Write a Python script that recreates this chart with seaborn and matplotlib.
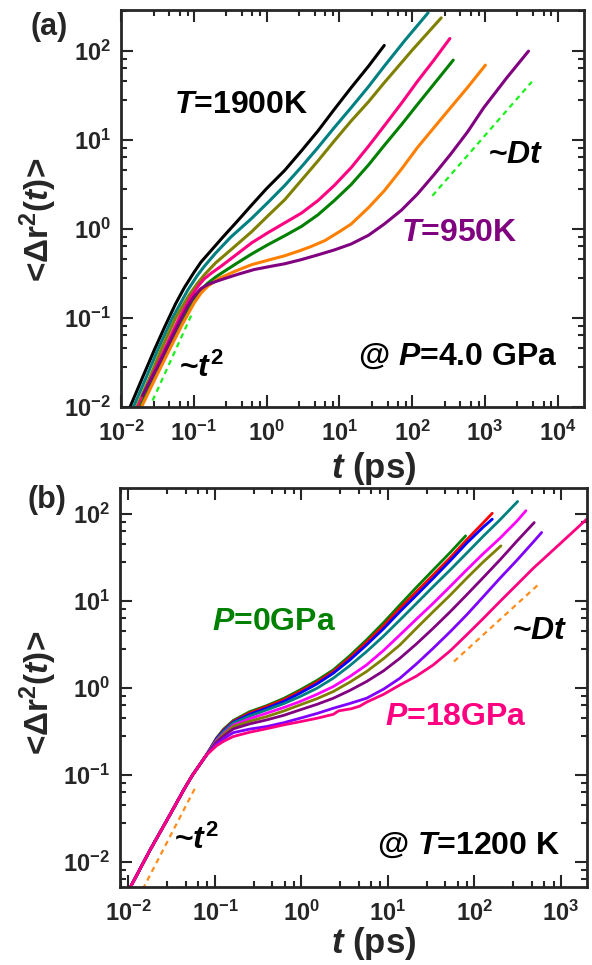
import numpy as np
import pandas as pd
import matplotlib
matplotlib.use("Agg")
import matplotlib.pyplot as plt
import seaborn as sns
from matplotlib.ticker import LogLocator, FuncFormatter, NullFormatter

# Values are given as decimal exponents (log10) of t [ps] and <dr^2(t)>,
# because both axes are logarithmic.

# ---------------- panel (a): P = 4.0 GPa, from T = 1900 K (first) to 950 K (last) ----------------
lg_t_a1 = [-1.886, -1.70, -1.543, -1.40, -1.25, -1.131, -1.00, -0.90, -0.75, -0.60, -0.40,
           -0.205, 0.00, 0.25, 0.48, 0.706, 0.93, 1.162, 1.40, 1.617]
lg_m_a1 = [-2.02, -1.66, -1.36, -1.10, -0.84, -0.66, -0.49, -0.37, -0.23, -0.09, 0.09,
           0.27, 0.455, 0.66, 0.88, 1.103, 1.345, 1.589, 1.83, 2.064]

lg_t_a2 = [-1.84, -1.65, -1.497, -1.30, -1.086, -0.95, -0.857, -0.70, -0.491, -0.205, 0.02,
           0.25, 0.48, 0.706, 0.93, 1.162, 1.40, 1.617, 1.90, 2.219]
lg_m_a2 = [-2.02, -1.66, -1.36, -1.01, -0.69, -0.52, -0.42, -0.27, -0.09, 0.12, 0.30,
           0.49, 0.70, 0.916, 1.14, 1.364, 1.60, 1.83, 2.12, 2.43]

lg_t_a3 = [-1.794, -1.60, -1.451, -1.25, -1.063, -0.95, -0.85, -0.70, -0.50, -0.205, 0.02,
           0.25, 0.48, 0.706, 0.93, 1.162, 1.40, 1.617, 2.00, 2.40]
lg_m_a3 = [-2.02, -1.66, -1.36, -1.00, -0.74, -0.61, -0.51, -0.38, -0.24, -0.03, 0.15,
           0.33, 0.55, 0.766, 0.99, 1.215, 1.43, 1.645, 2.01, 2.374]

lg_t_a4 = [-1.78, -1.60, -1.406, -1.20, -1.04, -0.93, -0.857, -0.75, -0.628, -0.42, -0.205,
           0.02, 0.25, 0.48, 0.706, 0.93, 1.162, 1.40, 1.617, 1.85, 2.073, 2.30, 2.519]
lg_m_a4 = [-2.02, -1.70, -1.36, -1.00, -0.76, -0.63, -0.56, -0.49, -0.42, -0.29, -0.155,
           -0.04, 0.07, 0.18, 0.32, 0.49, 0.69, 0.93, 1.16, 1.41, 1.66, 1.90, 2.142]

lg_t_a5 = [-1.749, -1.55, -1.36, -1.18, -1.017, -0.90, -0.811, -0.70, -0.628, -0.42, -0.205,
           0.02, 0.25, 0.48, 0.706, 0.93, 1.162, 1.40, 1.617, 1.85, 2.073, 2.30, 2.565]
lg_m_a5 = [-2.02, -1.68, -1.36, -1.05, -0.80, -0.68, -0.61, -0.54, -0.50, -0.39, -0.28,
           -0.175, -0.075, 0.03, 0.16, 0.32, 0.50, 0.72, 0.94, 1.17, 1.40, 1.63, 1.899]

lg_t_a6 = [-1.73, -1.53, -1.337, -1.15, -0.994, -0.90, -0.811, -0.70, -0.628, -0.42, -0.205,
           0.02, 0.25, 0.45, 0.60, 0.80, 1.00, 1.162, 1.40, 1.617, 1.85, 2.073, 2.30, 2.528,
           2.77, 3.007]
lg_m_a6 = [-2.02, -1.68, -1.36, -1.06, -0.83, -0.72, -0.645, -0.58, -0.545, -0.47, -0.40,
           -0.35, -0.30, -0.245, -0.20, -0.13, -0.03, 0.056, 0.24, 0.43, 0.67, 0.916, 1.14,
           1.364, 1.60, 1.843]

lg_t_a7 = [-1.703, -1.50, -1.314, -1.20, -1.086, -1.00, -0.903, -0.80, -0.628, -0.40, -0.171,
           0.05, 0.25, 0.47, 0.706, 0.93, 1.162, 1.40, 1.617, 1.85, 2.073, 2.30, 2.528, 2.76,
           2.984, 3.30, 3.599]
lg_m_a7 = [-1.872, -1.55, -1.24, -1.05, -0.87, -0.76, -0.67, -0.62, -0.57, -0.51, -0.455,
           -0.42, -0.39, -0.345, -0.29, -0.235, -0.168, -0.07, 0.056, 0.21, 0.393, 0.61,
           0.84, 1.09, 1.364, 1.70, 2.0]

colors_a = ["#000000", "#008080", "#808000", "#FF0080", "#008000", "#FF8000", "#800080"]

# guide lines ~t^2 and ~Dt in (a)
lg_t_ballistic_a = [-1.566, -1.017]
lg_m_ballistic_a = [-1.928, -0.938]
lg_t_diffusive_a = [2.278, 3.645]
lg_m_diffusive_a = [0.374, 1.656]

# ---------------- panel (b): T = 1200 K, from P = 0 GPa (first) to 18 GPa (last) ----------------
lg_t_common_b = [-1.979, -1.75, -1.523, -1.35, -1.26, -1.10]
lg_m_common_b = [-2.29, -1.86, -1.46, -1.15, -1.00, -0.77]

lg_t_grid_b = [-0.98, -0.9, -0.788, -0.6, -0.402, -0.2, -0.017, 0.18, 0.368, 0.56, 0.753,
               0.95, 1.139, 1.33, 1.524, 1.72, 1.91, 2.1, 2.295, 2.49, 2.68]

lg_t_b1 = lg_t_grid_b[:16] + [1.898]
lg_m_b1 = [-0.57, -0.47, -0.37, -0.27, -0.20, -0.115, -0.02, 0.09, 0.211, 0.375, 0.556,
           0.755, 0.958, 1.16, 1.36, 1.56, 1.751]

lg_t_b2 = lg_t_grid_b[:18] + [2.206]
lg_m_b2 = [-0.575, -0.48, -0.38, -0.285, -0.211, -0.13, -0.038, 0.07, 0.192, 0.35, 0.529,
           0.72, 0.92, 1.11, 1.303, 1.50, 1.705, 1.90, 2.011]

lg_t_b3 = lg_t_grid_b[:18] + [2.206]
lg_m_b3 = [-0.58, -0.49, -0.39, -0.30, -0.23, -0.15, -0.057, 0.05, 0.172, 0.325, 0.498,
           0.685, 0.881, 1.07, 1.264, 1.465, 1.667, 1.85, 1.943]

lg_t_b4 = lg_t_grid_b[:19] + [2.499]
lg_m_b4 = [-0.59, -0.50, -0.40, -0.32, -0.249, -0.175, -0.096, 0.0, 0.115, 0.26, 0.421,
           0.60, 0.785, 0.975, 1.169, 1.36, 1.552, 1.745, 1.935, 2.146]

lg_t_b5 = lg_t_grid_b[:20] + [2.595]
lg_m_b5 = [-0.60, -0.52, -0.425, -0.35, -0.287, -0.22, -0.153, -0.07, 0.019, 0.135, 0.268,
           0.435, 0.613, 0.795, 0.977, 1.17, 1.36, 1.545, 1.724, 1.92, 2.04]

lg_t_b6 = lg_t_grid_b[:18] + [2.306]
lg_m_b6 = [-0.61, -0.53, -0.44, -0.38, -0.326, -0.26, -0.192, -0.12, -0.038, 0.07, 0.192,
           0.34, 0.498, 0.69, 0.881, 1.07, 1.264, 1.45, 1.636]

lg_t_b7 = lg_t_grid_b[:20] + [2.691]
lg_m_b7 = [-0.62, -0.55, -0.467, -0.41, -0.364, -0.31, -0.249, -0.185, -0.115, -0.025, 0.077,
           0.20, 0.345, 0.51, 0.69, 0.88, 1.073, 1.27, 1.475, 1.69, 1.904]

lg_t_b8 = lg_t_grid_b[:21] + [2.777]
lg_m_b8 = [-0.64, -0.58, -0.51, -0.47, -0.44, -0.395, -0.345, -0.29, -0.23, -0.175, -0.115,
           -0.01, 0.115, 0.28, 0.46, 0.65, 0.843, 1.05, 1.264, 1.47, 1.68, 1.79]

lg_t_b9 = [-0.98, -0.9, -0.788, -0.6, -0.402, -0.2, -0.017, 0.18, 0.368, 0.43, 0.58, 0.676,
           0.753, 0.95, 1.139, 1.33, 1.524, 1.72, 1.91, 2.1, 2.295, 2.49, 2.68, 3.0, 3.30]
lg_m_b9 = [-0.66, -0.61, -0.555, -0.506, -0.465, -0.42, -0.385, -0.345, -0.30, -0.26, -0.235,
           -0.205, -0.16, -0.07, 0.038, 0.14, 0.268, 0.43, 0.613, 0.80, 0.997, 1.19, 1.379,
           1.67, 1.945]

colors_b = ["#008000", "#FF0000", "#0000FF", "#008080", "#FF00FF",
            "#808000", "#800080", "#8000FF", "#FF0080"]

lg_t_ballistic_b = [-1.834, -1.215]
lg_m_ballistic_b = [-2.309, -1.12]
lg_t_diffusive_b = [1.763, 2.765]
lg_m_diffusive_b = [0.307, 1.215]


def long_table(curves, prefix=None):
    rows = []
    for i, (lt, lm) in enumerate(curves):
        if prefix is not None:
            lt = list(prefix[0]) + list(lt)
            lm = list(prefix[1]) + list(lm)
        rows.append(pd.DataFrame({"curve": i,
                                  "t": np.power(10.0, lt),
                                  "msd": np.power(10.0, lm)}))
    return pd.concat(rows, ignore_index=True)


df_a = long_table([(lg_t_a1, lg_m_a1), (lg_t_a2, lg_m_a2), (lg_t_a3, lg_m_a3),
                   (lg_t_a4, lg_m_a4), (lg_t_a5, lg_m_a5), (lg_t_a6, lg_m_a6),
                   (lg_t_a7, lg_m_a7)])
df_b = long_table([(lg_t_b1, lg_m_b1), (lg_t_b2, lg_m_b2), (lg_t_b3, lg_m_b3),
                   (lg_t_b4, lg_m_b4), (lg_t_b5, lg_m_b5), (lg_t_b6, lg_m_b6),
                   (lg_t_b7, lg_m_b7), (lg_t_b8, lg_m_b8), (lg_t_b9, lg_m_b9)],
                  prefix=(lg_t_common_b, lg_m_common_b))

sns.set_style("ticks")
plt.rcParams.update({
    "font.family": ["Liberation Sans", "DejaVu Sans"],
    "font.weight": "bold",
    "mathtext.fontset": "custom",
    "mathtext.rm": "Liberation Sans:bold",
    "mathtext.it": "Liberation Sans:italic:bold",
    "mathtext.bf": "Liberation Sans:bold",
    "axes.linewidth": 2.0,
})

W, H = 592, 965
fig = plt.figure(figsize=(W / 100, H / 100), dpi=100)
ax_a = fig.add_axes([121 / W, 1 - 407 / H, 463 / W, 397 / H])
ax_b = fig.add_axes([120 / W, 1 - 887 / H, 467 / W, 399 / H])

for ax in (ax_a, ax_b):
    ax.set_xscale("log")
    ax.set_yscale("log")

guide_style = dict(lw=1.6, linestyle=(0, (2.4, 2.0)))

sns.lineplot(data=df_a, x="t", y="msd", hue="curve", palette=colors_a,
             estimator=None, sort=False, legend=False, lw=2.2, ax=ax_a)
sns.lineplot(x=np.power(10.0, lg_t_ballistic_a), y=np.power(10.0, lg_m_ballistic_a),
             color="#1AF01A", ax=ax_a, **guide_style)
sns.lineplot(x=np.power(10.0, lg_t_diffusive_a), y=np.power(10.0, lg_m_diffusive_a),
             color="#1AF01A", ax=ax_a, **guide_style)

sns.lineplot(data=df_b, x="t", y="msd", hue="curve", palette=colors_b,
             estimator=None, sort=False, legend=False, lw=2.0, ax=ax_b)
sns.lineplot(x=np.power(10.0, lg_t_ballistic_b), y=np.power(10.0, lg_m_ballistic_b),
             color="#FF8C1A", ax=ax_b, **guide_style)
sns.lineplot(x=np.power(10.0, lg_t_diffusive_b), y=np.power(10.0, lg_m_diffusive_b),
             color="#FF8C1A", ax=ax_b, **guide_style)

ax_a.set_xlim(1e-2, 2.3e4)
ax_a.set_ylim(1e-2, 290)
ax_b.set_xlim(8e-3, 2e3)
ax_b.set_ylim(5.2e-3, 200)

decade_fmt = FuncFormatter(lambda v, p: r"$\mathrm{10^{%d}}$" % int(round(np.log10(v))))
for ax in (ax_a, ax_b):
    for axis in (ax.xaxis, ax.yaxis):
        axis.set_major_locator(LogLocator(base=10, numticks=30))
        axis.set_minor_locator(LogLocator(base=10, subs=[2.8, 4.6, 6.4, 8.2], numticks=30))
        axis.set_major_formatter(decade_fmt)
        axis.set_minor_formatter(NullFormatter())
    ax.tick_params(which="both", direction="in", top=True, right=True, width=1.5)
    ax.tick_params(which="major", length=8.5, labelsize=17)
    ax.tick_params(axis="x", which="major", pad=10)
    ax.tick_params(axis="y", which="major", pad=7)
    ax.tick_params(which="minor", length=4.5)
    ax.set_xlabel("")
    ax.set_ylabel("")

big = 23
ax_a.text(0.053, 25, r"$T$=1900K", fontsize=big, ha="left", va="center", color="#000000")
ax_a.text(1120, 6.8, r"~$Dt$", fontsize=big, ha="left", va="center", color="#000000")
ax_a.text(70, 0.9, r"$T$=950K", fontsize=big, ha="left", va="center", color="#800080")
ax_a.text(0.063, 0.027, r"~$t^2$", fontsize=big, ha="left", va="center", color="#000000")
ax_a.text(1.0e4, 0.037, r"@ $P$=4.0 GPa", fontsize=big, ha="right", va="center", color="#000000")

ax_b.text(0.0916, 5.8, r"$P$=0GPa", fontsize=big, ha="left", va="center", color="#008000")
ax_b.text(269, 4.56, r"~$Dt$", fontsize=big, ha="left", va="center", color="#000000")
ax_b.text(9.2, 0.47, r"$P$=18GPa", fontsize=big, ha="left", va="center", color="#FF0080")
ax_b.text(0.0334, 0.0178, r"~$t^2$", fontsize=big, ha="left", va="center", color="#000000")
ax_b.text(980, 0.0156, r"@ $T$=1200 K", fontsize=big, ha="right", va="center", color="#000000")

ylab = r"<$\mathrm{\Delta r}^{2}$($t$)>"
fig.text(38 / W, 1 - 219.5 / H, ylab, rotation=90, ha="center", va="center", fontsize=24)
fig.text(38 / W, 1 - 693 / H, ylab, rotation=90, ha="center", va="center", fontsize=24)
fig.text(416 / W, 1 - 468 / H, r"$t$ (ps)", ha="right", va="center", fontsize=25)
fig.text(416 / W, 1 - 943 / H, r"$t$ (ps)", ha="right", va="center", fontsize=25)

fig.text(68 / W, 1 - 27 / H, "(a)", ha="right", va="center", fontsize=22)
fig.text(66 / W, 1 - 500 / H, "(b)", ha="right", va="center", fontsize=22)

fig.savefig("out.png", dpi=100)
